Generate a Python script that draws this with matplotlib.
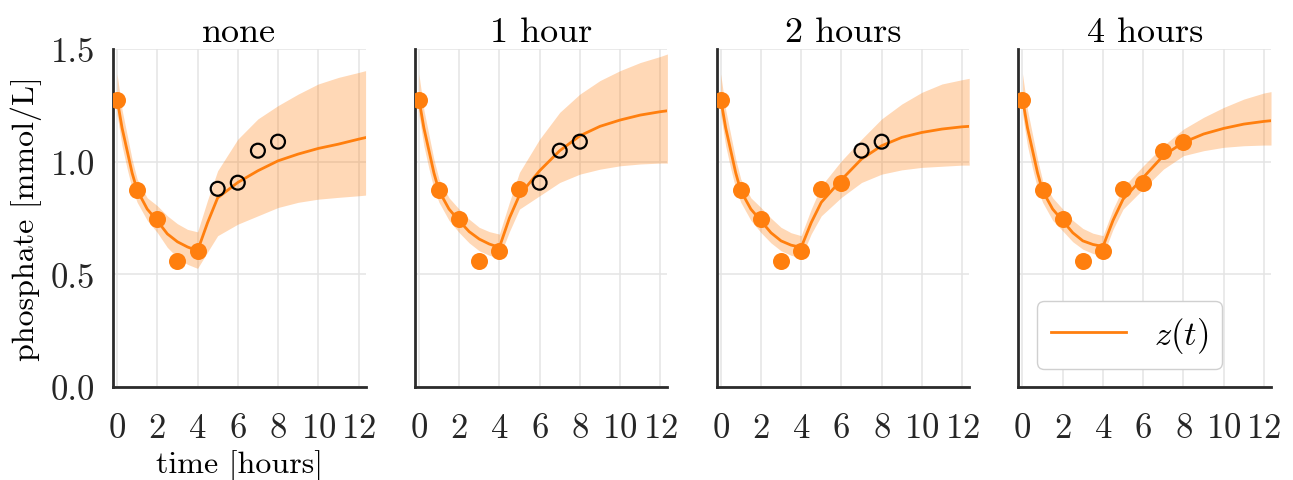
import numpy as np
import matplotlib
matplotlib.use('Agg')
import matplotlib.pyplot as plt
from matplotlib.lines import Line2D

plt.rcParams['font.family'] = 'serif'
plt.rcParams['font.serif'] = ['cmr10']
plt.rcParams['mathtext.fontset'] = 'cm'
plt.rcParams['axes.unicode_minus'] = False
plt.rcParams['axes.formatter.use_mathtext'] = True

ORANGE = '#ff7f0e'

# measurements
t_obs = [0, 1, 2, 3, 4, 5, 6, 7, 8]
phos_obs = [1.276, 0.876, 0.747, 0.560, 0.604, 0.880, 0.907, 1.049, 1.089]

titles = ['none', '1 hour', '2 hours', '4 hours']
n_fitted = [5, 6, 7, 9]   # how many of the observations were used for fitting

# model curve z(t) and its band
t_model = [0, 0.25, 0.5, 0.75, 1, 1.5, 2, 2.5, 3, 3.5, 4, 4.5, 5, 6, 7, 8, 9, 10, 11, 12, 12.35]

z_none = [1.28, 1.15, 1.05, 0.95, 0.874, 0.79, 0.738, 0.68, 0.645, 0.622, 0.605, 0.73, 0.84,
          0.908, 0.96, 1.004, 1.034, 1.059, 1.078, 1.10, 1.107]
lo_none = [1.21, 1.07, 0.97, 0.88, 0.82, 0.74, 0.686, 0.62, 0.575, 0.545, 0.527, 0.60, 0.672,
           0.723, 0.76, 0.797, 0.82, 0.834, 0.842, 0.849, 0.852]
hi_none = [1.39, 1.23, 1.12, 1.01, 0.923, 0.84, 0.805, 0.76, 0.725, 0.70, 0.689, 0.83, 0.96,
           1.10, 1.19, 1.249, 1.30, 1.345, 1.374, 1.396, 1.404]

z_1h = [1.28, 1.15, 1.05, 0.95, 0.871, 0.79, 0.738, 0.69, 0.657, 0.635, 0.62, 0.75, 0.852,
        0.96, 1.049, 1.115, 1.157, 1.185, 1.207, 1.222, 1.226]
lo_1h = [1.21, 1.07, 0.97, 0.88, 0.82, 0.74, 0.686, 0.64, 0.605, 0.585, 0.575, 0.69, 0.79,
         0.849, 0.908, 0.945, 0.967, 0.982, 0.99, 0.994, 0.994]
hi_1h = [1.39, 1.23, 1.12, 1.01, 0.923, 0.84, 0.79, 0.745, 0.709, 0.69, 0.679, 0.82, 0.953,
         1.10, 1.219, 1.30, 1.36, 1.404, 1.44, 1.467, 1.478]

z_2h = [1.28, 1.15, 1.05, 0.95, 0.871, 0.79, 0.738, 0.685, 0.649, 0.63, 0.62, 0.73, 0.82,
        0.92, 1.012, 1.071, 1.108, 1.13, 1.145, 1.155, 1.157]
lo_2h = [1.21, 1.07, 0.97, 0.88, 0.82, 0.74, 0.686, 0.64, 0.605, 0.585, 0.575, 0.68, 0.76,
         0.842, 0.908, 0.945, 0.964, 0.975, 0.98, 0.985, 0.985]
hi_2h = [1.39, 1.23, 1.12, 1.01, 0.923, 0.84, 0.797, 0.75, 0.709, 0.685, 0.672, 0.79, 0.893,
         1.004, 1.10, 1.19, 1.256, 1.308, 1.345, 1.364, 1.37]

z_4h = [1.28, 1.15, 1.05, 0.95, 0.871, 0.79, 0.738, 0.685, 0.649, 0.633, 0.624, 0.74, 0.834,
        0.93, 1.027, 1.086, 1.123, 1.148, 1.167, 1.179, 1.182]
lo_4h = [1.21, 1.07, 0.97, 0.88, 0.82, 0.74, 0.693, 0.645, 0.612, 0.593, 0.583, 0.70, 0.79,
         0.879, 0.967, 1.027, 1.049, 1.064, 1.071, 1.074, 1.074]
hi_4h = [1.39, 1.23, 1.12, 1.01, 0.916, 0.84, 0.79, 0.74, 0.704, 0.683, 0.672, 0.79, 0.886,
         0.982, 1.071, 1.145, 1.197, 1.241, 1.278, 1.305, 1.311]

curves = [(z_none, lo_none, hi_none), (z_1h, lo_1h, hi_1h),
          (z_2h, lo_2h, hi_2h), (z_4h, lo_4h, hi_4h)]

fig, axes = plt.subplots(1, 4, sharey=True, figsize=(12.93, 4.81), dpi=100)
fig.subplots_adjust(left=0.0874, right=0.983, top=0.896, bottom=0.193, wspace=0.195)

for ax, title, n_fit, (z, lo, hi) in zip(axes, titles, n_fitted, curves):
    ax.fill_between(t_model, lo, hi, color=ORANGE, alpha=0.3, linewidth=0, zorder=2)
    ax.plot(t_model, z, color=ORANGE, lw=2.0, zorder=3)
    ax.scatter(t_obs[:n_fit], phos_obs[:n_fit], s=150, color=ORANGE, zorder=4, linewidths=0)
    if n_fit < len(t_obs):
        ax.scatter(t_obs[n_fit:], phos_obs[n_fit:], s=100, facecolors='none',
                   edgecolors='black', linewidths=1.6, zorder=4)

    ax.set_title(title, fontsize=26, pad=6)
    ax.set_xlim(-0.2, 12.35)
    ax.set_ylim(0, 1.5)
    ax.set_xticks([0, 2, 4, 6, 8, 10, 12])
    ax.set_yticks([0.0, 0.5, 1.0, 1.5])
    ax.grid(True, color='#e4e4e4', lw=1.1, zorder=0)
    ax.set_axisbelow(True)
    for side in ['top', 'right']:
        ax.spines[side].set_visible(False)
    for side in ['left', 'bottom']:
        ax.spines[side].set_color('#2b2b2b')
        ax.spines[side].set_linewidth(2.0)
    ax.tick_params(length=0, labelsize=25, colors='#262626')
    ax.tick_params(axis='x', pad=18)
    ax.tick_params(axis='y', pad=13)

axes[0].set_ylabel('phosphate [mmol/L]', fontsize=23, labelpad=6)
axes[0].set_xlabel('time [hours]', fontsize=23, labelpad=4)
axes[0].set_yticklabels(['0.0', '0.5', '1.0', '1.5'])

handle = [Line2D([0], [0], color=ORANGE, lw=2.0)]
axes[3].legend(handles=handle, labels=[r'$z(t)$'], loc='lower right', fontsize=25,
               handlelength=2.16, handletextpad=0.8, borderpad=0.4, borderaxespad=0,
               bbox_to_anchor=(0.806, 0.053), framealpha=1, edgecolor='#d0d0d0')

fig.savefig('out.png', dpi=100)
